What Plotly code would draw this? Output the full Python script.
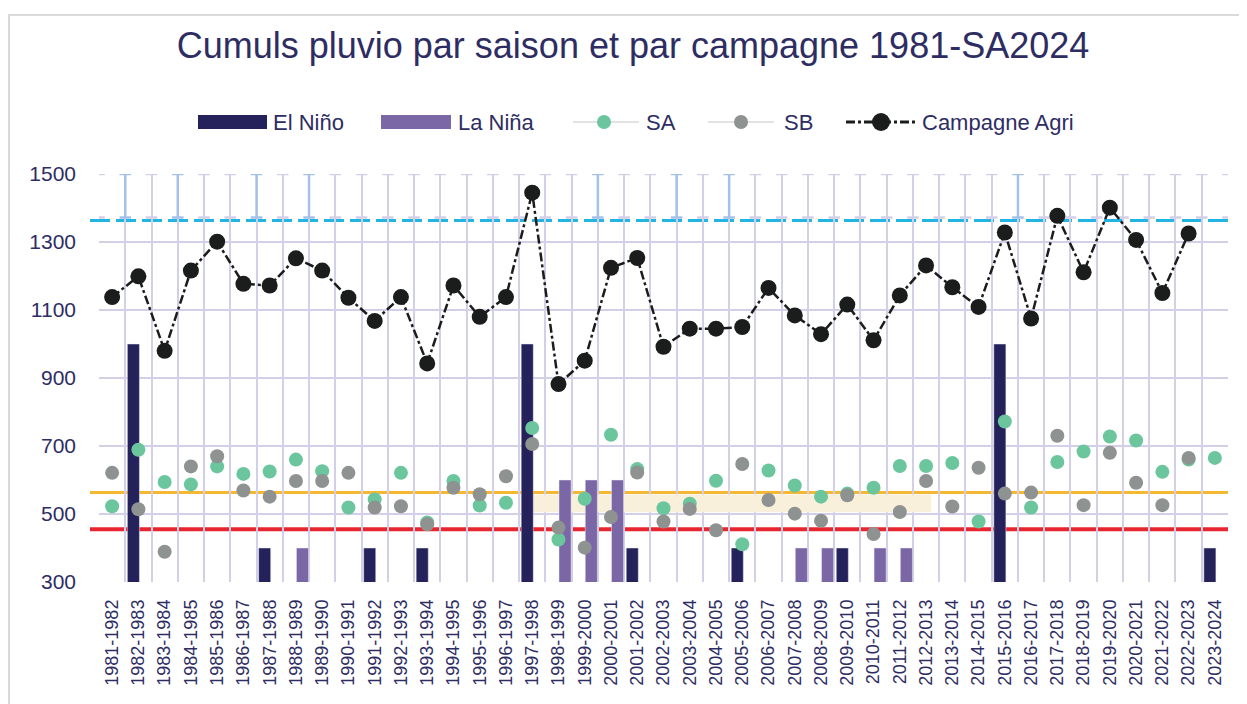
import plotly.graph_objects as go

seasons = ["1981-1982", "1982-1983", "1983-1984", "1984-1985", "1985-1986", "1986-1987",
           "1987-1988", "1988-1989", "1989-1990", "1990-1991", "1991-1992", "1992-1993",
           "1993-1994", "1994-1995", "1995-1996", "1996-1997", "1997-1998", "1998-1999",
           "1999-2000", "2000-2001", "2001-2002", "2002-2003", "2003-2004", "2004-2005",
           "2005-2006", "2006-2007", "2007-2008", "2008-2009", "2009-2010", "2010-2011",
           "2011-2012", "2012-2013", "2013-2014", "2014-2015", "2015-2016", "2016-2017",
           "2017-2018", "2018-2019", "2019-2020", "2020-2021", "2021-2022", "2022-2023",
           "2023-2024"]

el_nino = [None, 1000, None, None, None, None, 400, None, None, None, 400, None,
           400, None, None, None, 1000, None, None, None, 400, None, None, None,
           400, None, None, None, 400, None, None, None, None, None, 1000, None,
           None, None, None, None, None, None, 400]

la_nina = [None, None, None, None, None, None, None, 400, None, None, None, None,
           None, None, None, None, None, 600, 600, 600, None, None, None, None,
           None, None, 400, 400, None, 400, 400, None, None, None, None, None,
           None, None, None, None, None, None, None]

sa = [523, 689, 594, 587, 640, 618, 625, 660, 626, 519, 543, 621,
      475, 597, 525, 533, 753, 425, 545, 733, 632, 517, 530, 598,
      411, 628, 584, 551, 560, 577, 641, 641, 650, 478, 772, 519,
      653, 684, 728, 716, 624, 660, 665]

sb = [621, 514, 389, 640, 670, 569, 551, 597, 597, 621, 519, 523,
      470, 577, 558, 611, 706, 460, 401, 491, 622, 478, 515, 452,
      647, 541, 501, 480, 555, 441, 506, 597, 522, 636, 560, 563,
      730, 526, 680, 592, 526, 665, None]

campagne = [1138, 1199, 980, 1216, 1301, 1177, 1172, 1252, 1216, 1136, 1068, 1138,
            943, 1172, 1080, 1138, 1445, 882, 951, 1224, 1253, 992, 1045, 1045,
            1050, 1165, 1084, 1029, 1116, 1011, 1143, 1231, 1167, 1109, 1328, 1075,
            1377, 1211, 1401, 1306, 1150, 1325, None]

ref_high = 1363   # cyan dashed reference
ref_sa = 563      # yellow reference
ref_low = 455     # red reference
band_low, band_high = 505, 557
band_start, band_end = "1997-1998", "2012-2013"

y_ticks = [300, 500, 700, 900, 1100, 1300, 1500]

# decorative caps on the vertical grid in the top band (boundary indices highlighted in blue)
blue_boundaries = [1, 3, 6, 8, 19, 22, 24, 35]

NAVY = "#2e2d63"
FONT = "Liberation Sans, Arial, sans-serif"
C_ELN, C_LAN = "#25215a", "#7b66a6"
C_SA, C_SB, C_CA = "#6cc69d", "#8e9290", "#1b1d1d"
GRID = "#d3cfe7"
CAP_BLUE = "#a6c1e8"

# page body has an 8px margin: figure pixel = screen pixel - OFF
OFF = 8
W, H = 1247 - OFF, 704 - OFF
PLOT_X0, PLOT_X1, PLOT_Y0, PLOT_Y1 = 99, 1228, 174, 582   # screen pixels
L, R = PLOT_X0 - OFF, W - (PLOT_X1 - OFF)
T, B = PLOT_Y0 - OFF, H - (PLOT_Y1 - OFF)
PW, PH = W - L - R, H - T - B


def px(x):
    return (x - OFF - L) / PW


def py(y):
    return (H - B - (y - OFF)) / PH


fig = go.Figure()

fig.add_trace(go.Bar(x=seasons, y=el_nino, name="El Niño", marker_color=C_ELN,
                     width=0.46, offset=-0.42))
fig.add_trace(go.Bar(x=seasons, y=la_nina, name="La Niña", marker_color=C_LAN,
                     width=0.46, offset=0.02))
fig.add_trace(go.Scatter(x=seasons, y=sa, mode="markers", name="SA",
                         marker=dict(color=C_SA, size=14)))
fig.add_trace(go.Scatter(x=seasons, y=sb, mode="markers", name="SB",
                         marker=dict(color=C_SB, size=14)))
fig.add_trace(go.Scatter(x=seasons, y=campagne, mode="lines+markers", name="Campagne Agri",
                         line=dict(color=C_CA, width=2.5, dash="dashdot"),
                         marker=dict(color=C_CA, size=16)))

i0 = seasons.index(band_start)
i1 = seasons.index(band_end)
shapes = [
    dict(type="rect", xref="x", yref="y", x0=i0 - 0.25, x1=i1 + 0.2,
         y0=band_low, y1=band_high, fillcolor="#f8f0da", line_width=0, layer="between"),
]

# grid caps in the top band
for k in range(len(seasons) + 1):
    xb = k - 0.5
    col = CAP_BLUE if k in blue_boundaries else GRID
    if k in blue_boundaries:
        shapes.append(dict(type="line", xref="x", yref="y", x0=xb, x1=xb, y0=1372, y1=1500,
                           line=dict(color=CAP_BLUE, width=2.5), layer="between"))
    for yc in (1500, 1372):
        shapes.append(dict(type="line", xref="x", yref="y", x0=xb - 0.22, x1=xb + 0.22,
                           y0=yc, y1=yc, line=dict(color=col, width=2.5), layer="between"))

shapes += [
    dict(type="line", xref="paper", yref="y", x0=px(90), x1=1.0, y0=ref_high, y1=ref_high,
         line=dict(color="#22b4e3", width=3, dash="20px,6px"), layer="between"),
    dict(type="line", xref="paper", yref="y", x0=px(90), x1=1.0, y0=ref_sa, y1=ref_sa,
         line=dict(color="#f4b833", width=3), layer="between"),
    dict(type="line", xref="paper", yref="y", x0=px(90), x1=1.0, y0=ref_low, y1=ref_low,
         line=dict(color="#e8262f", width=4), layer="between"),
    dict(type="rect", xref="paper", yref="paper", x0=px(9), x1=px(1260), y0=py(720), y1=py(15),
         line=dict(color="#d9d9d9", width=2), fillcolor="rgba(0,0,0,0)", layer="above"),
]

# custom legend (drawn in paper space)
LY = 122
annotations = []


def leg_text(x, txt):
    annotations.append(dict(xref="paper", yref="paper", x=px(x), y=py(LY), text=txt,
                            showarrow=False, xanchor="left", yanchor="middle",
                            font=dict(size=22, color=NAVY, family=FONT)))


def leg_rect(x0, x1, color):
    shapes.append(dict(type="rect", xref="paper", yref="paper", x0=px(x0), x1=px(x1),
                       y0=py(LY + 7), y1=py(LY - 7), fillcolor=color, line_width=0))


def leg_line(x0, x1, color, dash="solid", width=2):
    shapes.append(dict(type="line", xref="paper", yref="paper", x0=px(x0), x1=px(x1),
                       y0=py(LY), y1=py(LY), line=dict(color=color, width=width, dash=dash)))


def leg_dot(xc, r, color):
    shapes.append(dict(type="circle", xref="paper", yref="paper", x0=px(xc - r), x1=px(xc + r),
                       y0=py(LY + r), y1=py(LY - r), fillcolor=color, line_width=0))


leg_rect(198, 267, C_ELN)
leg_text(271, "El Niño")
leg_rect(381, 451, C_LAN)
leg_text(456, "La Niña")
leg_line(573, 639, "#e2e2e2")
leg_dot(604, 7, C_SA)
leg_text(644, "SA")
leg_line(708, 774, "#e2e2e2")
leg_dot(741, 7, C_SB)
leg_text(782, "SB")
leg_line(846, 918, C_CA, dash="dashdot", width=3)
leg_dot(881, 9, C_CA)
leg_text(920, "Campagne Agri")

fig.update_layout(
    width=W, height=H,
    margin=dict(l=L, r=R, t=T, b=B, autoexpand=False),
    paper_bgcolor="white", plot_bgcolor="white",
    barmode="overlay",
    showlegend=False,
    font=dict(family=FONT, color=NAVY),
    title=dict(text="Cumuls pluvio par saison et par campagne 1981-SA2024",
               x=(633 - OFF) / W, xanchor="center", y=1 - (45 - OFF) / H, yanchor="middle",
               font=dict(size=36, color=NAVY, family=FONT)),
    shapes=shapes,
    annotations=annotations,
)

fig.update_xaxes(type="category", range=[-0.5, len(seasons) - 0.5],
                 tickangle=-90, tickfont=dict(size=18, color=NAVY),
                 showgrid=True, gridcolor=GRID, gridwidth=2,
                 tickson="boundaries", ticks="", showline=False, zeroline=False,
                 ticklabelstandoff=13, automargin=False)
fig.update_yaxes(range=[300, 1500], tickvals=y_ticks, tickfont=dict(size=21, color=NAVY),
                 showgrid=True, gridcolor=GRID, gridwidth=2, zeroline=False,
                 ticks="", showline=False, ticklabelstandoff=22, automargin=False)

fig.write_html("out.html")
